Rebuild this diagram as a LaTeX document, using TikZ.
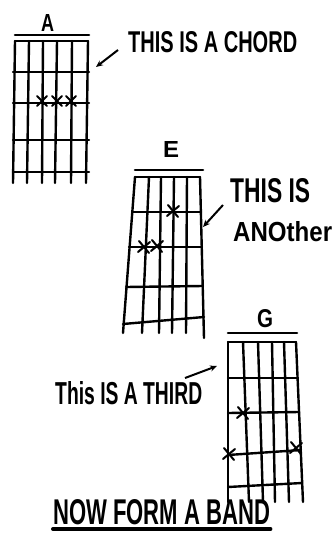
\documentclass[tikz,border=0pt]{standalone}
\usepackage{fontspec}
\usepackage{graphicx}
\setmainfont{Liberation Sans}
\usetikzlibrary{arrows.meta}
\newcommand{\hw}[3]{\resizebox{#1pt}{#2pt}{\bfseries #3}}
\tikzset{
  grid/.style={line width=2.4pt, line cap=round},
  nutline/.style={line width=2.6pt, line cap=round},
  xmark/.style={line width=2pt, line cap=round},
  pointer/.style={line width=2pt, -{Stealth[length=7pt,width=6pt]}},
  lbl/.style={inner sep=0pt, anchor=south west},
}
\begin{document}
\begin{tikzpicture}[x=1pt,y=-1pt]
\useasboundingbox (0,0) rectangle (333,535);
\fill[white] (0,0) rectangle (333,535);

% ---------- Chord A ----------
\node[lbl] (tA) at (41,32) {\hw{13}{17}{A}};
\draw[nutline] (15,35) -- (89,35);
\draw[grid] (15,41) -- (88,41);
\foreach \xt/\xb in {15/13, 29/27, 43/42, 57/55, 72/71, 88/86}
  \draw[grid] (\xt,41) -- (\xb,183);
\foreach \y in {72,103,140,172}
  \draw[grid] (13,\y) -- (89,\y);
\foreach \x in {42,57,71}
  \draw[xmark] (\x-5,96) -- (\x+5,106) (\x+5,96) -- (\x-5,106);

\node[lbl] (cA) at (128,53) {\hw{169}{21}{THIS IS A CHORD}};
\coordinate (sA) at (118,50);
\coordinate (aA) at (96,67);
\draw[pointer] (sA) -- (aA);

% ---------- Chord E ----------
\node[lbl] (tE) at (163,158) {\hw{16}{16}{E}};
\draw[nutline] (135,170) -- (203,170);
\draw[grid] (135,177) -- (200,177);
\foreach \xt/\xb/\yb in {135/123/333, 149/142/333, 161/159/333, 174/172/333, 187/186/333, 200/204/338}
  \draw[grid] (\xt,177) -- (\xb,\yb);
\draw[grid] (132,212) -- (201,212);
\draw[grid] (129,247) -- (202,247);
\draw[grid] (126,287) -- (203,286);
\draw[grid] (123,324) -- (204,317);
\foreach \x/\y in {173/211, 144/247, 157/246}
  \draw[xmark] (\x-5,\y-6) -- (\x+5,\y+6) (\x+6,\y-5) -- (\x-6,\y+5);

\node[lbl] (cE1) at (230,203) {\hw{80}{24}{THIS IS}};
\node[lbl] (cE2) at (233,242) {\hw{99}{20}{ANOther}};
\coordinate (sE) at (223,205);
\coordinate (aE) at (203,227);
\draw[pointer] (sE) -- (aE);

% ---------- Chord G ----------
\node[lbl] (tG) at (257,328) {\hw{16}{18}{G}};
\draw[nutline] (228,333) -- (297,333);
\draw[grid] (228,342) -- (296,342);
\foreach \xt/\xb in {228/228, 243/249, 258/263, 272/275, 284/289, 296/303}
  \draw[grid] (\xt,342) -- (\xb,502);
\draw[grid] (228,378) -- (298,378);
\draw[grid] (228,413) -- (299,412);
\draw[grid] (228,455) -- (301,450);
\draw[grid] (228,487) -- (302,483);
\foreach \x/\y in {243/413, 229/454, 296/448}
  \draw[xmark] (\x-5,\y-6) -- (\x+5,\y+6) (\x+6,\y-5) -- (\x-6,\y+5);

\node[lbl] (cG) at (55,405) {\hw{147}{23}{This IS A THIRD}};
\coordinate (sG) at (185,378);
\coordinate (aG) at (217,366);
\draw[pointer] (sG) -- (aG);

% ---------- Footer ----------
\node[lbl] (band) at (53,525) {\hw{217}{25}{NOW FORM A BAND}};
\draw[line width=4pt, line cap=round] ([yshift=-4pt]band.south west) -- ([yshift=-4pt]band.south east);
\end{tikzpicture}
\end{document}
